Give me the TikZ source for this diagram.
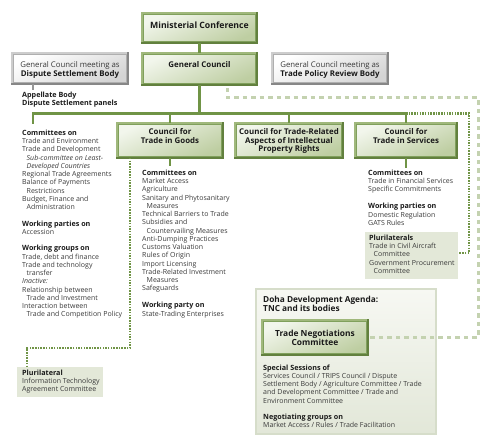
\documentclass[tikz,border=0pt]{standalone}
\usepackage{fontspec}
\setmainfont{Open Sans}
\definecolor{gline}{RGB}{112,148,70}
\definecolor{lgdash}{RGB}{196,210,176}
\definecolor{gmid}{RGB}{128,160,92}
\definecolor{glight}{RGB}{160,184,124}
\definecolor{gdark}{RGB}{98,128,62}
\definecolor{gfillA}{RGB}{242,246,236}
\definecolor{gfillB}{RGB}{190,206,162}
\definecolor{grmid}{RGB}{175,175,175}
\definecolor{grlight}{RGB}{205,205,205}
\definecolor{grdark}{RGB}{135,135,135}
\definecolor{grfillB}{RGB}{212,212,212}
\definecolor{pfill}{RGB}{227,232,216}
\definecolor{dA}{RGB}{247,248,243}
\definecolor{dB}{RGB}{226,231,216}
\definecolor{dborder}{RGB}{214,221,202}
\definecolor{tgrey}{RGB}{58,58,58}
\definecolor{tblack}{RGB}{26,26,26}
\definecolor{greycn}{RGB}{150,150,150}
\newcommand\fs{\fontsize{7.0}{8}\selectfont}
\newcommand\bs{\fontsize{7.9}{9}\selectfont\bfseries}
\newcount\tlc
\newcommand\tl[4][]{\global\advance\tlc by 1 \node[txt,#1] (t\the\tlc) at (#2,{#3+2.4}) {#4};}
\newcommand\gbx[6]{\node[#2, minimum width=#5pt, minimum height=#6pt] (#1) at (#3,#4) {};}
\newcommand\bev[3]{\draw[#2, line width=2.4pt, line cap=rect] (#1.south west) -- (#1.north west) -- (#1.north east);
  \draw[#3, line width=2.4pt, line cap=rect] (#1.south west) -- (#1.south east) -- (#1.north east);}
\tikzset{
 conn/.style={draw=gline, line width=2.6pt},
 greyconn/.style={draw=greycn, line width=2pt},
 dotg/.style={draw=gline, line width=2.4pt, dash pattern=on 1.5pt off 1.2pt},
 dashl/.style={draw=lgdash, line width=3pt, dash pattern=on 4.5pt off 4pt},
 gbox/.style={draw=gmid, line width=2.4pt, top color=gfillA, bottom color=gfillB, shading angle=25, inner sep=0},
 greybox/.style={draw=grmid, line width=2.4pt, top color=white, bottom color=grfillB, shading angle=25, inner sep=0},
 pbox/.style={fill=pfill, inner sep=0},
 dohabox/.style={draw=dborder, line width=2pt, top color=dA, bottom color=dB, inner sep=0},
 txt/.style={anchor=base west, inner sep=0, text=tgrey, font=\fs},
 hd/.style={font=\fontsize{7.2}{8}\selectfont\bfseries, text=tblack},
 itl/.style={font=\fs\itshape},
 btxt/.style={anchor=base, inner sep=0, font=\bs, text=tblack},
 dhd/.style={font=\fontsize{8.3}{9}\selectfont\bfseries, text=tblack},
}
\begin{document}
\begin{tikzpicture}[x=1pt,y=-1pt]
\useasboundingbox (0,0) rectangle (490,441);
% containers
\node[dohabox, minimum width=180pt, minimum height=145pt] (doha) at (346,361.5) {};
\node[pbox, minimum width=86pt, minimum height=30pt] (pl1) at (60,382) {};
\node[pbox, minimum width=93pt, minimum height=47pt] (pl2) at (411.5,255.5) {};
% boxes
\gbx{mc}{gbox}{199.5}{28}{112.6}{27.6}
\gbx{gc}{gbox}{199.5}{69}{112.6}{29.6}
\gbx{dsb}{greybox}{70}{68.5}{113.6}{28.6}
\gbx{tprb}{greybox}{330}{68.5}{113.6}{28.6}
\gbx{goods}{gbox}{170}{140.5}{103.6}{32.6}
\gbx{trips}{gbox}{289}{140.5}{105.6}{32.6}
\gbx{serv}{gbox}{406}{140.5}{99.6}{32.6}
\gbx{tnc}{gbox}{315}{337.5}{103.6}{32.6}
\foreach \b in {mc,gc,goods,trips,serv,tnc} {\bev{\b}{glight}{gdark}}
\foreach \b in {dsb,tprb} {\bev{\b}{grlight}{grdark}}
% coordinates
\coordinate (barL) at (33,113.5);
\coordinate (barR) at (406,113.5);
\coordinate (colL) at (33,124);
\coordinate (gstub) at (170,166);
\coordinate (sstub) at (406,168);
\coordinate (app) at (33,90);
\coordinate (d1) at (469,113.5);
\coordinate (d2) at (469,253);
\coordinate (e1) at (130,348);
\coordinate (e2) at (27,348);
\coordinate (f0) at (227,98);
\coordinate (f1) at (478,98);
\coordinate (f2) at (478,337);
% connectors
\draw[conn] (mc) -- (gc);
\draw[conn] (gc) -- (gc |- barL);
\draw[conn] (colL) -- (barL) -- (barR);
\draw[conn] (goods) -- (goods |- barL);
\draw[conn] (trips) -- (trips |- barL);
\draw[conn] (serv) -- (serv |- barL);
\draw[conn] (goods) -- (gstub);
\draw[conn] (serv) -- (sstub);
\draw[greyconn] (dsb.south -| app) -- (app);
\draw[dotg] (barR) -- (d1) -- (d2) -- (pl2.east |- d2);
\draw[dotg] (goods.south -| e1) -- (e1) -- (e2) -- (e2 |- pl1.north);
\draw[dashl, shorten <=3pt] (gc.south -| f0) -- (f0) -- (f1) -- (f2) -- (tnc.east |- f2);
% box texts
\node[btxt, font=\fontsize{8.7}{10}\selectfont\bfseries] (mct) at (199.5,28.1) {Ministerial Conference};
\node[btxt] (gct) at (199.5,67.8) {General Council};
\node[btxt, font=\fontsize{7.8}{9}\selectfont, text=tgrey] (dsbt1) at (70,67.7) {General Council meeting as};
\node[btxt] (dsbt2) at (70,76.8) {Dispute Settlement Body};
\node[btxt, font=\fontsize{7.8}{9}\selectfont, text=tgrey] (tprbt1) at (330,67.7) {General Council meeting as};
\node[btxt] (tprbt2) at (330,76.8) {Trade Policy Review Body};
\node[btxt] (gt1) at (170,134.6) {Council for};
\node[btxt] (gt2) at (170,143.6) {Trade in Goods};
\node[btxt] (tt1) at (289,134.6) {Council for Trade-Related};
\node[btxt] (tt2) at (289,143.4) {Aspects of Intellectual};
\node[btxt] (tt3) at (289,152) {Property Rights};
\node[btxt] (st1) at (406,134.6) {Council for};
\node[btxt] (st2) at (406,143.6) {Trade in Services};
\node[btxt, font=\fontsize{8.4}{10}\selectfont\bfseries] (tnct1) at (315,336.3) {Trade Negotiations};
\node[btxt, font=\fontsize{8.4}{10}\selectfont\bfseries] (tnct2) at (315,345.3) {Committee};
% appellate
\tl[hd]{22}{95}{Appellate Body}
\tl[hd]{22}{102.7}{Dispute Settlement panels}
% left column
\tl[hd]{22}{133}{Committees on}
\tl{22}{141.25}{Trade and Environment}
\tl{22}{149.5}{Trade and Development}
\tl[itl]{26.5}{157.75}{Sub-committee on Least-}
\tl[itl]{26.5}{166}{Developed Countries}
\tl{22}{174.25}{Regional Trade Agreements}
\tl{22}{182.5}{Balance of Payments}
\tl{26.5}{190.75}{Restrictions}
\tl{22}{199}{Budget, Finance and}
\tl{26.5}{207.25}{Administration}
\tl[hd]{22}{224}{Working parties on}
\tl{22}{232.25}{Accession}
\tl[hd]{22}{248.5}{Working groups on}
\tl{22}{256.75}{Trade, debt and finance}
\tl{22}{265}{Trade and technology}
\tl{26.5}{273.25}{transfer}
\tl[itl]{22}{281.5}{Inactive:}
\tl{22}{289.75}{Relationship between}
\tl{26.5}{298}{Trade and Investment}
\tl{22}{306.25}{Interaction between}
\tl{26.5}{314.5}{Trade and Competition Policy}
% goods column
\tl[hd]{142}{173}{Committees on}
\tl{142}{181.25}{Market Access}
\tl{142}{189.5}{Agriculture}
\tl{142}{197.75}{Sanitary and Phytosanitary}
\tl{146.5}{206}{Measures}
\tl{142}{214.25}{Technical Barriers to Trade}
\tl{142}{222.5}{Subsidies and}
\tl{146.5}{230.75}{Countervailing Measures}
\tl{142}{239}{Anti-Dumping Practices}
\tl{142}{247.25}{Customs Valuation}
\tl{142}{255.5}{Rules of Origin}
\tl{142}{263.75}{Import Licensing}
\tl{142}{272}{Trade-Related Investment}
\tl{146.5}{280.25}{Measures}
\tl{142}{288.5}{Safeguards}
\tl[hd]{142}{305.5}{Working party on}
\tl{142}{313.75}{State-Trading Enterprises}
% services column
\tl[hd]{368}{173}{Committees on}
\tl{368}{181.25}{Trade in Financial Services}
\tl{368}{189.5}{Specific Commitments}
\tl[hd]{368}{206.5}{Working parties on}
\tl{368}{214.75}{Domestic Regulation}
\tl{368}{223}{GATS Rules}
\tl[hd]{369}{238}{Plurilaterals}
\tl{369}{246.25}{Trade in Civil Aircraft}
\tl{373.5}{254.5}{Committee}
\tl{369}{262.75}{Government Procurement}
\tl{373.5}{271}{Committee}
% left plurilateral
\tl[hd]{22}{373}{Plurilateral}
\tl{22}{381.25}{Information Technology}
\tl{22}{389.5}{Agreement Committee}
% Doha
\tl[dhd]{263}{300}{Doha Development Agenda:}
\tl[dhd]{263}{308.7}{TNC and its bodies}
\tl[hd]{263}{368.3}{Special Sessions of}
\tl{263}{376.3}{Services Council / TRIPS Council / Dispute}
\tl{263}{384.4}{Settlement Body / Agriculture Committee / Trade}
\tl{263}{392.5}{and Development Committee / Trade and}
\tl{263}{400.6}{Environment Committee}
\tl[hd]{263}{416.8}{Negotiating groups on}
\tl{263}{425}{Market Access / Rules / Trade Facilitation}
\end{tikzpicture}
\end{document}
